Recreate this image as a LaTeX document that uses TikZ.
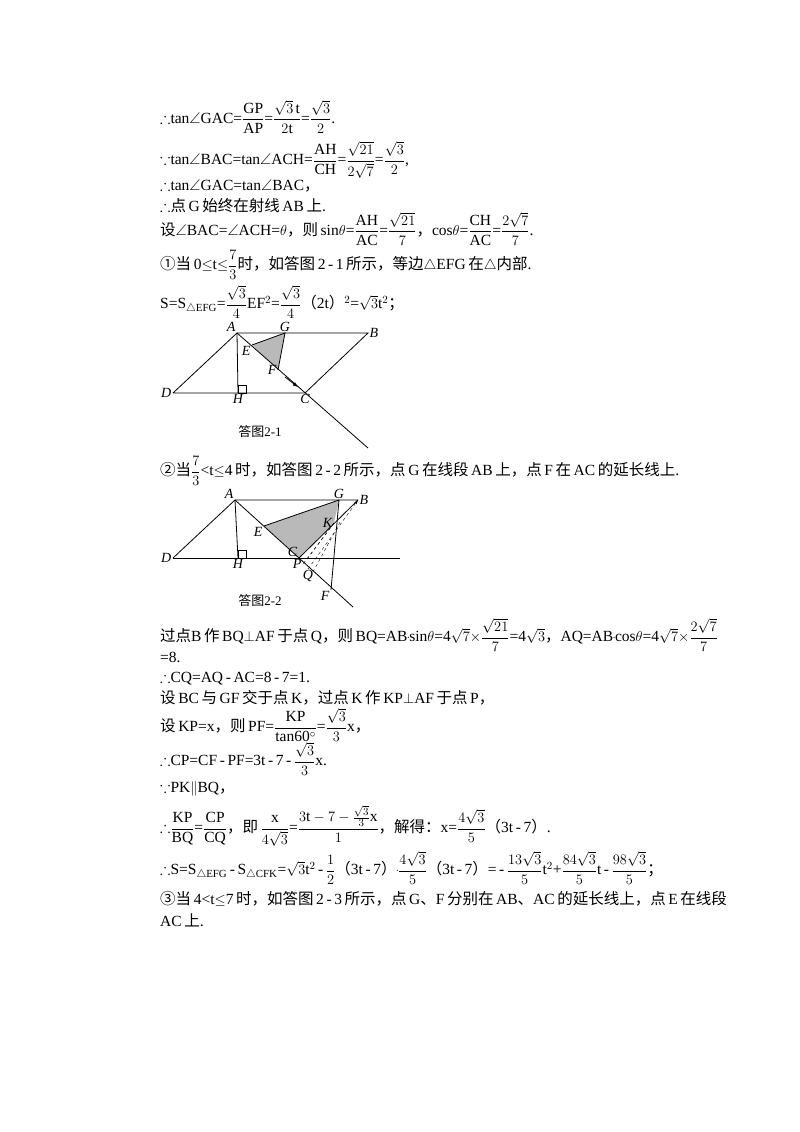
\documentclass[tikz,border=0pt]{standalone}
\usepackage{amsmath,amssymb}
\usepackage{fontspec}
\setmainfont{Liberation Serif}
\newfontfamily\cjk{Noto Sans CJK SC}
\newcommand{\zh}[1]{{\cjk #1}}
\newcommand{\fr}[2]{\dfrac{\mathrm{#1}}{\mathrm{#2}}}
\newcommand{\dotp}{\raisebox{0.3ex}{\tiny\textbullet}}
\tikzset{
  txt/.style={anchor=west,inner sep=0pt,font=\fontsize{15.5}{18}\selectfont},
  lab/.style={font=\fontsize{14}{16}\selectfont\itshape,inner sep=1.5pt},
  figcap/.style={font=\fontsize{13}{15}\selectfont},
  pt/.style={coordinate}
}
\begin{document}
\begin{tikzpicture}[x=1pt,y=-1pt]
\useasboundingbox (0,0) rectangle (800,1132);
% text above the figures
\node[txt] (l1) at (160,117) {$\therefore$tan$\angle$GAC=$\fr{GP}{AP}$=$\dfrac{\sqrt{3}\,\mathrm{t}}{2\mathrm{t}}$=$\dfrac{\sqrt{3}}{2}$.};
\node[txt] (l2) at (160,160) {$\because$tan$\angle$BAC=tan$\angle$ACH=$\fr{AH}{CH}$=$\dfrac{\sqrt{21}}{2\sqrt{7}}$=$\dfrac{\sqrt{3}}{2}$,};
\node[txt] (l3) at (160,186) {$\therefore$tan$\angle$GAC=tan$\angle$BAC\zh{，}};
\node[txt] (l4) at (160,206) {$\therefore$\zh{点}\,G\,\zh{始终在射线}\,AB\,\zh{上}.};
\node[txt] (l5) at (160,229) {\zh{设}$\angle$BAC=$\angle$ACH=$\theta$\zh{，则}\,sin$\theta$=$\fr{AH}{AC}$=$\dfrac{\sqrt{21}}{7}$\zh{，}cos$\theta$=$\fr{CH}{AC}$=$\dfrac{2\sqrt{7}}{7}$.};
\node[txt] (l6) at (160,265) {\zh{①当}\,0$\le$t$\le$$\dfrac{7}{3}$\zh{时，如答图}\,2\,-\,1\,\zh{所示，等边}$\triangle$EFG\,\zh{在}$\triangle$\zh{内部}.};
\node[txt] (l7) at (160,302) {S=S$_{\triangle\mathrm{EFG}}$=$\dfrac{\sqrt{3}}{4}$EF$^2$=$\dfrac{\sqrt{3}}{4}$\zh{（}2t\zh{）}$^2$=$\sqrt{3}$t$^2$\zh{；}};
% figure 2-1
\coordinate (A) at (237,333);
\coordinate (B) at (368,333);
\coordinate (D) at (173,393);
\coordinate (H) at (238,393);
\coordinate (C) at (305,393);
\coordinate (X) at (368,448);
\coordinate (G) at (285,333);
\coordinate (E) at (252,345);
\coordinate (F) at (278,370);
\fill[gray!55] (E) -- (G) -- (F) -- cycle;
\draw[thick] (E) -- (G) -- (F);
\draw[thick] (D) -- (A) -- (B) -- (C) -- (D);
\draw[thick] (A) -- (X);
\draw[thick] (A) -- (H);
\draw[thick] (H) rectangle ++(8,-8);
\draw[-latex,thick] (285,377) -- (298,387);
\node[lab,above left] at (A) {A};
\node[lab,above] at (G) {G};
\node[lab,right] at (B) {B};
\node[lab,left] at (D) {D};
\node[lab,below] at (H) {H};
\node[lab,below] at (C) {C};
\node[lab,below left] at (E) {E};
\node[lab,left] at (F) {F};
\node[figcap] at (260,432) {\zh{答图}2-1};
% text between figures
\node[txt] (l8) at (160,471) {\zh{②当}$\dfrac{7}{3}$<t$\le$4\,\zh{时，如答图}\,2\,-\,2\,\zh{所示，点}\,G\,\zh{在线段}\,AB\,\zh{上，点}\,F\,\zh{在}\,AC\,\zh{的延长线上}.};
% figure 2-2
\coordinate (A2) at (235,500);
\coordinate (B2) at (358,500);
\coordinate (D2) at (173,558);
\coordinate (H2) at (238,558);
\coordinate (R2) at (400,558);
\coordinate (C2) at (299,558);
\coordinate (X2) at (353,607);
\coordinate (G2) at (339,500);
\coordinate (E2) at (264,526);
\coordinate (K2) at (334,523);
\coordinate (F2) at (331,590);
\coordinate (P2) at (303,564);
\coordinate (Q2) at (308,569);
\fill[gray!55] (E2) -- (G2) -- (K2) -- (C2) -- cycle;
\draw[thick] (E2) -- (G2) -- (F2);
\draw[thick] (D2) -- (A2) -- (B2);
\draw[thick] (D2) -- (R2);
\draw[thick] (A2) -- (X2);
\draw[thick] (A2) -- (H2);
\draw[thick] (H2) rectangle ++(8,-8);
\draw[thick] (C2) -- (B2);
\draw[dashed] (K2) -- (P2);
\draw[dashed] (K2) -- (305,562);
\draw[dashed,-latex] (Q2) -- (B2);
\draw[dashed] (340,522) -- (313,572);
\node[lab,above left] at (A2) {A};
\node[lab,above] at (G2) {G};
\node[lab,right] at (B2) {B};
\node[lab,left] at (D2) {D};
\node[lab,below] at (H2) {H};
\node[lab,above left] at (C2) {C};
\node[lab,below left] at (E2) {E};
\node[lab,left] at (K2) {K};
\node[lab,left] at (P2) {P};
\node[lab,below] at (Q2) {Q};
\node[lab,below left] at (F2) {F};
\node[figcap] at (260,601) {\zh{答图}2-2};
% text below the figures
\node[txt] (l9) at (160,635) {\zh{过点}B\,\zh{作}\,BQ$\perp$AF\,\zh{于点}\,Q\zh{，则}\,BQ=AB\dotp sin$\theta$=4$\sqrt{7}$$\times$$\dfrac{\sqrt{21}}{7}$=4$\sqrt{3}$\zh{，}AQ=AB\dotp cos$\theta$=4$\sqrt{7}$$\times$$\dfrac{2\sqrt{7}}{7}$};
\node[txt] (l10) at (160,657) {=8.};
\node[txt] (l11) at (160,678) {$\therefore$CQ=AQ\,-\,AC=8\,-\,7=1.};
\node[txt] (l12) at (160,698) {\zh{设}\,BC\,\zh{与}\,GF\,\zh{交于点}\,K\zh{，过点}\,K\,\zh{作}\,KP$\perp$AF\,\zh{于点}\,P\zh{，}};
\node[txt] (l13) at (160,725) {\zh{设}\,KP=x\zh{，则}\,PF=$\dfrac{\mathrm{KP}}{\mathrm{tan60^\circ}}$=$\dfrac{\sqrt{3}}{3}$x\zh{，}};
\node[txt] (l14) at (160,759) {$\therefore$CP=CF\,-\,PF=3t\,-\,7\,-\,$\dfrac{\sqrt{3}}{3}$x.};
\node[txt] (l15) at (160,789) {$\because$PK$\parallel$BQ\zh{，}};
\node[txt] (l16) at (160,826) {$\therefore$$\fr{KP}{BQ}$=$\fr{CP}{CQ}$\zh{，即}\,$\dfrac{\mathrm{x}}{4\sqrt{3}}$=$\dfrac{3\mathrm{t}-7-\frac{\sqrt{3}}{3}\mathrm{x}}{1}$\zh{，解得：}x=$\dfrac{4\sqrt{3}}{5}$\zh{（}3t\,-\,7\zh{）}.};
\node[txt] (l17) at (160,868) {$\therefore$S=S$_{\triangle\mathrm{EFG}}$\,-\,S$_{\triangle\mathrm{CFK}}$=$\sqrt{3}$t$^2$\,-\,$\dfrac{1}{2}$\zh{（}3t\,-\,7\zh{）}\dotp$\dfrac{4\sqrt{3}}{5}$\zh{（}3t\,-\,7\zh{）}=\,-\,$\dfrac{13\sqrt{3}}{5}$t$^2$+$\dfrac{84\sqrt{3}}{5}$t\,-\,$\dfrac{98\sqrt{3}}{5}$\zh{；}};
\node[txt] (l18) at (160,899) {\zh{③当}\,4<t$\le$7\,\zh{时，如答图}\,2\,-\,3\,\zh{所示，点}\,G\zh{、}F\,\zh{分别在}\,AB\zh{、}AC\,\zh{的延长线上，点}\,E\,\zh{在线段}};
\node[txt] (l19) at (160,920) {AC\,\zh{上}.};
\end{tikzpicture}
\end{document}
